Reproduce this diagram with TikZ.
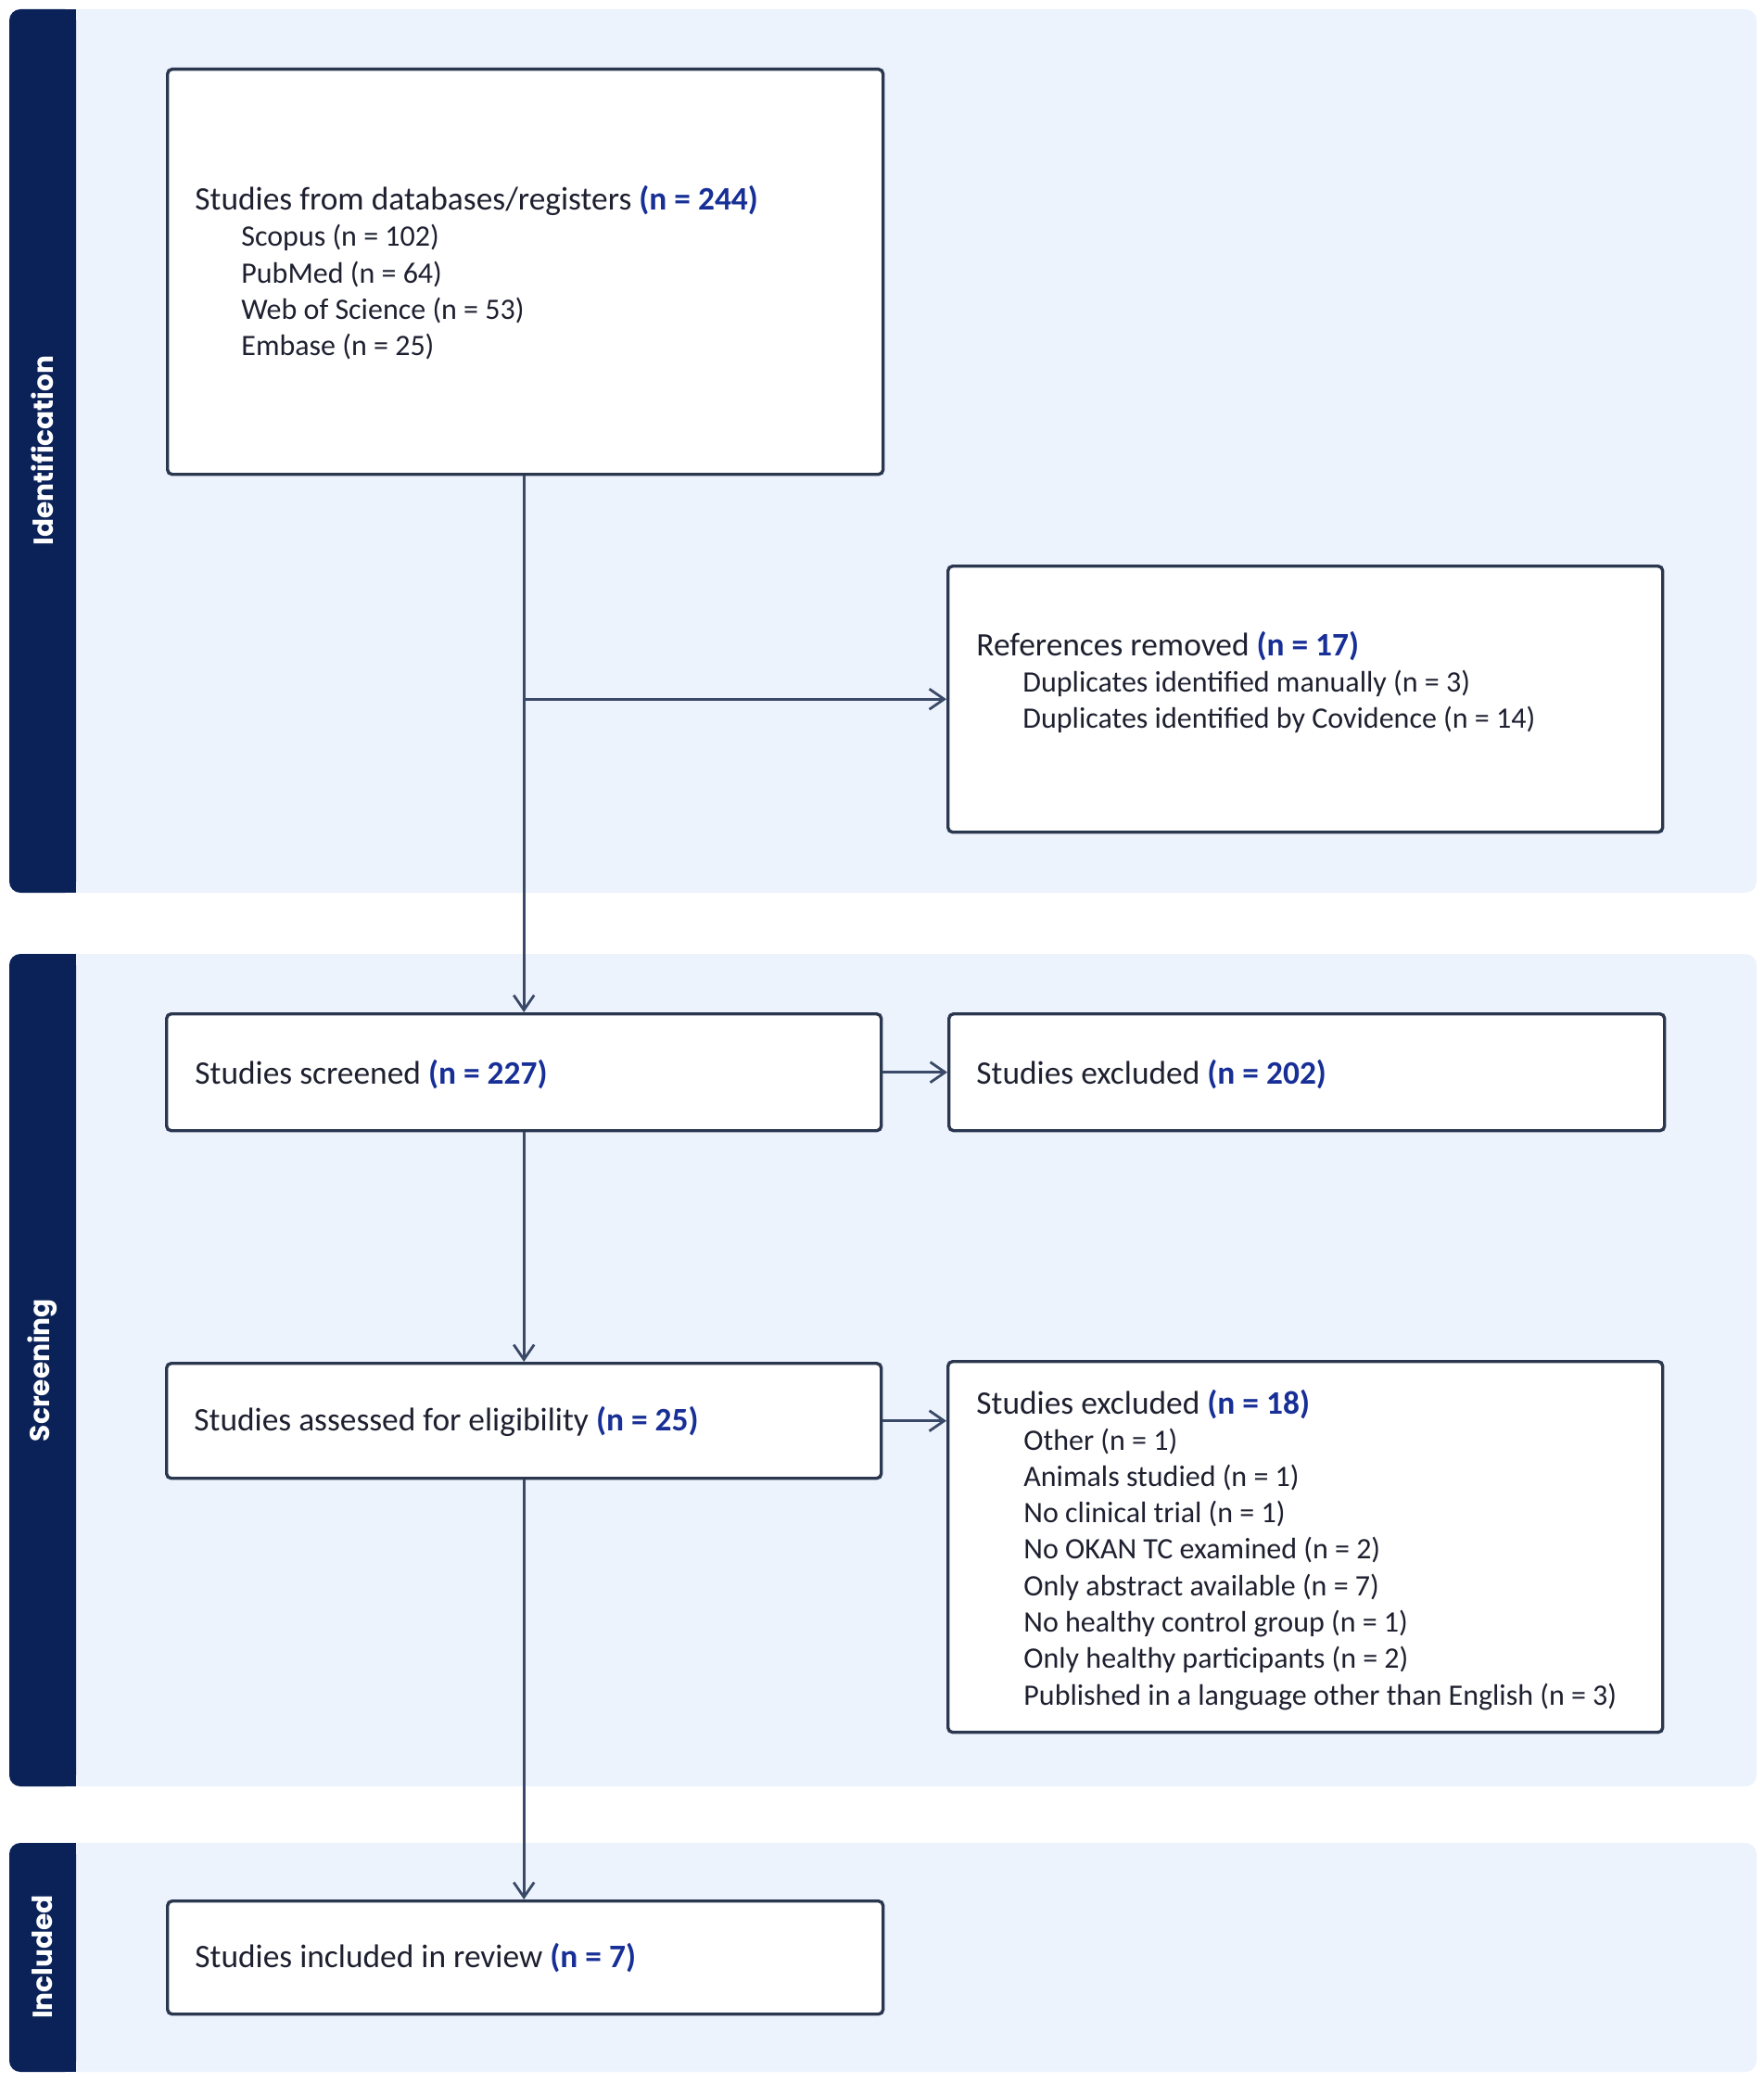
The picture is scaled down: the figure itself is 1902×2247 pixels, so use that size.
\documentclass[tikz,border=0pt]{standalone}
\usepackage{fontspec}
\setmainfont{Carlito}
\newfontfamily\lblfont{Poppins}
\usetikzlibrary{arrows.meta}
\definecolor{panelfill}{HTML}{EDF3FD}
\definecolor{barnavy}{HTML}{0B2259}
\definecolor{boxline}{HTML}{2A374F}
\definecolor{arrowcol}{HTML}{3A4968}
\definecolor{txt}{HTML}{1E2030}
\definecolor{nblue}{HTML}{172F96}
\newcommand{\nval}[1]{\textbf{\color{nblue}#1}}
\begin{document}
\begin{tikzpicture}[x=0.5pt,y=-0.5pt,
  panel/.style={fill=panelfill, rounded corners=6pt},
  sidebar/.style={fill=barnavy, rounded corners=6pt},
  flowbox/.style={draw=boxline, line width=1.7pt, fill=white, rounded corners=2.5pt, anchor=north west, inner sep=0pt},
  titleline/.style={anchor=base west, inner sep=0pt, text=txt, font=\fontsize{17.7}{20}\selectfont},
  subline/.style={anchor=base west, inner sep=0pt, text=txt, font=\fontsize{16}{19}\selectfont},
  sidelabel/.style={rotate=90, text=white, inner sep=0pt, font=\lblfont\bfseries\fontsize{14.8}{17}\selectfont},
  flowarrow/.style={draw=arrowcol, line width=1.4pt, -{Straight Barb[length=8pt,width=11pt]}}
]
\useasboundingbox (0,0) rectangle (1902,2247);
% panels
\fill[panel] (10,10) rectangle (1895,963);
\fill[sidebar] (10,10) rectangle (82,963);
\fill[barnavy] (60,10) rectangle (82,963);
\fill[panel] (10,1029) rectangle (1895,1927);
\fill[sidebar] (10,1029) rectangle (82,1927);
\fill[barnavy] (60,1029) rectangle (82,1927);
\fill[panel] (10,1988) rectangle (1895,2235);
\fill[sidebar] (10,1988) rectangle (82,2235);
\fill[barnavy] (60,1988) rectangle (82,2235);
\node[sidelabel] (l1) at (46,486) {Identification};
\node[sidelabel] (l2) at (46,1478) {Screening};
\node[sidelabel] (l3) at (46,2111) {Included};
% boxes
\node[flowbox, minimum width=386pt, minimum height=218.5pt] (b1) at (179,73) {};
\node[flowbox, minimum width=385.5pt, minimum height=143.5pt] (b2) at (1021,609) {};
\node[flowbox, minimum width=385.5pt, minimum height=63pt] (b3) at (178,1092) {};
\node[flowbox, minimum width=386pt, minimum height=63pt] (b4) at (1022,1092) {};
\node[flowbox, minimum width=385.5pt, minimum height=62pt] (b5) at (178,1469) {};
\node[flowbox, minimum width=385.5pt, minimum height=200pt] (b6) at (1021,1467) {};
\node[flowbox, minimum width=386pt, minimum height=61pt] (b7) at (179,2049) {};
% texts
\node[titleline] (t1) at (210,227) {Studies from databases/registers \nval{(n = 244)}};
\node[subline] (t1a) at (260,266) {Scopus (n = 102)};
\node[subline] (t1b) at (260,305.5) {PubMed (n = 64)};
\node[subline] (t1c) at (260,345) {Web of Science (n = 53)};
\node[subline] (t1d) at (260,384) {Embase (n = 25)};
\node[titleline] (t2) at (1053,707) {References removed \nval{(n = 17)}};
\node[subline] (t2a) at (1103,746) {Duplicates identified manually (n = 3)};
\node[subline] (t2b) at (1103,785) {Duplicates identified by Covidence (n = 14)};
\node[titleline] (t3) at (210,1169) {Studies screened \nval{(n = 227)}};
\node[titleline] (t4) at (1053,1169) {Studies excluded \nval{(n = 202)}};
\node[titleline] (t5) at (209,1543) {Studies assessed for eligibility \nval{(n = 25)}};
\node[titleline] (t6) at (1053,1525) {Studies excluded \nval{(n = 18)}};
\node[subline] (t6a) at (1104,1564) {Other (n = 1)};
\node[subline] (t6b) at (1104,1603.3) {Animals studied (n = 1)};
\node[subline] (t6c) at (1104,1642.6) {No clinical trial (n = 1)};
\node[subline] (t6d) at (1104,1681.9) {No OKAN TC examined (n = 2)};
\node[subline] (t6e) at (1104,1721.2) {Only abstract available (n = 7)};
\node[subline] (t6f) at (1104,1760.5) {No healthy control group (n = 1)};
\node[subline] (t6g) at (1104,1799.8) {Only healthy participants (n = 2)};
\node[subline] (t6h) at (1104,1839.1) {Published in a language other than English (n = 3)};
\node[titleline] (t7) at (210,2122) {Studies included in review \nval{(n = 7)}};
% connectors
\coordinate (top) at (b3.north |- b1.south);
\coordinate (br) at (b3.north |- b2.west);
\draw[flowarrow] (top) -- (b3.north);
\draw[flowarrow] (br) -- (b2.west);
\draw[flowarrow] (b3.east) -- (b4.west);
\draw[flowarrow] (b3.south) -- (b3.south |- b5.north);
\draw[flowarrow] (b5.east) -- (b5.east -| b6.west);
\draw[flowarrow] (b5.south) -- (b5.south |- b7.north);
\end{tikzpicture}
\end{document}
